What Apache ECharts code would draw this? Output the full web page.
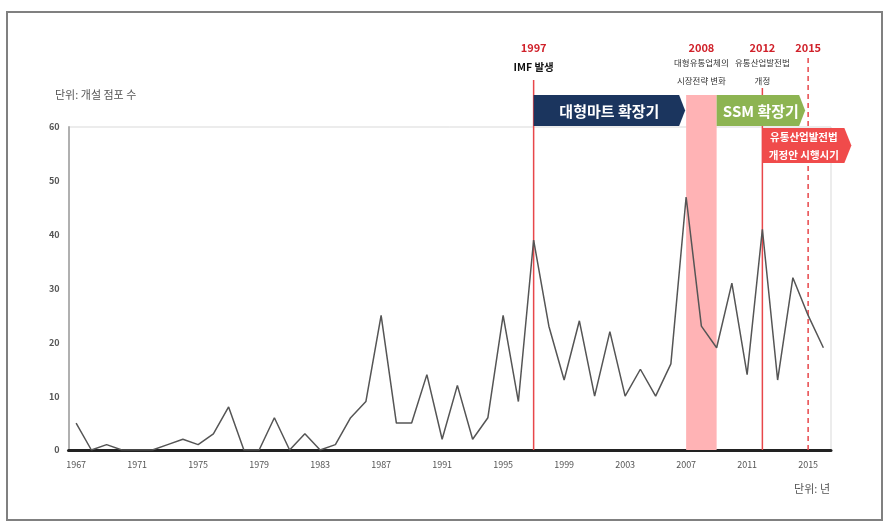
<!DOCTYPE html>
<html>
<head>
<meta charset="utf-8">
<script src="https://cdn.jsdelivr.net/npm/echarts@6/dist/echarts.min.js"></script>
<style>
html,body{margin:0;padding:0;background:#fff;}
#chart{width:889px;height:529px;}
</style>
</head>
<body>
<div id="chart"></div>
<script>
const years = ['1967','1968','1969','1970','1971','1972','1973','1974','1975','1976',
  '1977','1978','1979','1980','1981','1982','1983','1984','1985','1986',
  '1987','1988','1989','1990','1991','1992','1993','1994','1995','1996',
  '1997','1998','1999','2000','2001','2002','2003','2004','2005','2006',
  '2007','2008','2009','2010','2011','2012','2013','2014','2015','2016'];
const storeCounts = [5,0,1,0,0,0,1,2,1,3,
  8,0,0,6,0,3,0,1,6,9,
  25,5,5,14,2,12,2,6,25,9,
  39,23,13,24,10,22,10,15,10,16,
  47,23,19,31,14,41,13,32,25,19];
const yTicks = [0,10,20,30,40,50,60];
const eventYears = ['1997','2008','2012','2015'];
const eventNotes = [['IMF 발생'], ['대형유통업체의','시장전략 변화'], ['유통산업발전법','개정'], []];
const bandRange = ['2007','2009'];
const periodLabels = ['대형마트 확장기','SSM 확장기'];
const periodRanges = [['1997','2007'],['2009','2015']];
const lawLabel = ['유통산업발전법','개정안 시행시기'];
const yUnit = '단위: 개설 점포 수';
const xUnit = '단위: 년';

const FONT = "'Noto Sans CJK KR','Noto Sans',sans-serif";
const chart = echarts.init(document.getElementById('chart'), null, {renderer:'canvas'});
chart.setOption({
  animation:false,
  backgroundColor:'#fff',
  grid:{left:68.5,right:58,top:127,bottom:79,show:true,borderColor:'#d9d9d9',borderWidth:1,backgroundColor:'transparent'},
  xAxis:{type:'category',data:years,boundaryGap:true,
    axisLine:{lineStyle:{color:'#222',width:3}},
    axisTick:{show:false},
    axisLabel:{interval:3,color:'#555',fontSize:9,fontFamily:FONT,margin:10},
    splitLine:{show:false}},
  yAxis:{type:'value',min:yTicks[0],max:yTicks[yTicks.length-1],interval:10,
    axisLine:{show:true,lineStyle:{color:'#b0b0b0',width:2}},
    axisTick:{show:false},
    axisLabel:{color:'#555',fontSize:9,fontFamily:FONT,margin:9,fontWeight:'bold'},
    splitLine:{show:false}},
  series:[{type:'line',data:storeCounts,symbol:'none',z:5,
    lineStyle:{color:'#555',width:1.5}}]
});

function px(year){ return chart.convertToPixel({xAxisIndex:0}, year); }
function py(v){ return chart.convertToPixel({yAxisIndex:0}, v); }
const y0 = py(0);
const g = [];
// outer frame
g.push({type:'rect',shape:{x:7,y:12,width:875,height:508},style:{fill:null,stroke:'#808080',lineWidth:2},z:1});
// band
const bx0 = px(bandRange[0]), bx1 = px(bandRange[1]);
g.push({type:'rect',shape:{x:bx0,y:95,width:bx1-bx0,height:y0-95},style:{fill:'#ffb3b5'},z:2});
// vertical event lines
g.push({type:'line',shape:{x1:px('1997'),y1:80,x2:px('1997'),y2:y0},style:{stroke:'#e8474a',lineWidth:1.5},z:3});
g.push({type:'line',shape:{x1:px('2012'),y1:88,x2:px('2012'),y2:y0},style:{stroke:'#e8474a',lineWidth:1.5},z:3});
g.push({type:'line',shape:{x1:px('2015'),y1:58,x2:px('2015'),y2:y0},style:{stroke:'#e8474a',lineWidth:1.5,lineDash:[5,4]},z:3});
// event texts
const eventX = [px('1997'), (bx0+bx1)/2, px('2012'), px('2015')];
eventYears.forEach((yr,i)=>{
  g.push({type:'text',x:eventX[i],y:48,style:{text:yr,fill:'#d0212a',font:"bold 11px "+FONT,align:'center',verticalAlign:'middle'},z:10});
});
g.push({type:'text',x:eventX[0],y:67,style:{text:eventNotes[0][0],fill:'#111',font:"bold 10.5px "+FONT,align:'center',verticalAlign:'middle'},z:10});
[1,2].forEach(i=>{
  eventNotes[i].forEach((t,j)=>{
    g.push({type:'text',x:eventX[i],y:63+j*18,style:{text:t,fill:'#333',font:"8.5px "+FONT,align:'center',verticalAlign:'middle'},z:10});
  });
});
// period arrows
function arrow(x0,x1,yT,yB,color,tip){
  const ym=(yT+yB)/2;
  return {type:'polygon',shape:{points:[[x0,yT],[x1-tip,yT],[x1,ym],[x1-tip,yB],[x0,yB]]},style:{fill:color},z:6};
}
const nx0 = px(periodRanges[0][0]), nx1 = px(periodRanges[0][1])-1;
g.push(arrow(nx0,nx1,95,126,'#1b355e',6));
g.push({type:'text',x:(nx0+nx1)/2,y:111,style:{text:periodLabels[0],fill:'#fff',font:"bold 15px "+FONT,align:'center',verticalAlign:'middle'},z:10});
const gx0 = px(periodRanges[1][0]), gx1 = px(periodRanges[1][1])-3;
g.push(arrow(gx0,gx1,95,126,'#8db452',6));
g.push({type:'text',x:(gx0+gx1)/2,y:111,style:{text:periodLabels[1],fill:'#fff',font:"bold 15px "+FONT,align:'center',verticalAlign:'middle'},z:10});
const rx0 = px('2012'), rx1 = rx0 + 89;
g.push(arrow(rx0,rx1,128,163,'#f04b4b',7));
lawLabel.forEach((t,j)=>{
  g.push({type:'text',x:(rx0+rx1)/2-3,y:137+j*18,style:{text:t,fill:'#fff',font:"bold 10.5px "+FONT,align:'center',verticalAlign:'middle'},z:10});
});
// unit labels
g.push({type:'text',x:55,y:95,style:{text:yUnit,fill:'#555',font:"11px "+FONT,align:'left',verticalAlign:'middle'},z:10});
g.push({type:'text',x:830,y:489,style:{text:xUnit,fill:'#555',font:"11px "+FONT,align:'right',verticalAlign:'middle'},z:10});

chart.setOption({graphic:{elements:g}});
</script>
</body>
</html>
